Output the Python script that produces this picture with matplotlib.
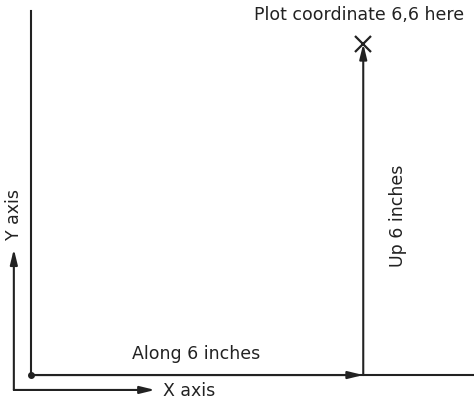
import matplotlib
matplotlib.use("Agg")
import matplotlib.pyplot as plt

# diagram geometry in inches (data units)
origin = (0, 0)
target = (6, 6)
y_axis_top = 6.6
x_axis_right = 8.1
small_axes_origin = (-0.31, -0.27)
small_axes_len = 2.55

labels = {
    "along": "Along 6 inches",
    "up": "Up 6 inches",
    "target": "Plot coordinate 6,6 here",
    "x": "X axis",
    "y": "Y axis",
}

ink = "#222222"
fs = 12.5

fig = plt.figure(figsize=(4.74, 4.02), dpi=100)
ax = fig.add_axes([0, 0, 1, 1])
ax.set_xlim(-0.56, 8.0)
ax.set_ylim(-0.47, 6.81)
ax.axis("off")

# main axes lines
ax.plot([origin[0], origin[0]], [origin[1], y_axis_top], color=ink, lw=1.5)
ax.plot([origin[0], x_axis_right], [origin[1], origin[1]], color=ink, lw=1.5)
ax.plot(*origin, "o", color=ink, ms=4)

arrow = dict(arrowstyle="-|>,head_length=0.9,head_width=0.22", color=ink, lw=1.5,
             shrinkA=0, shrinkB=0)

# along and up arrows
ax.annotate("", xy=(target[0], origin[1]), xytext=origin, arrowprops=arrow)
ax.annotate("", xy=target, xytext=(target[0], origin[1]), arrowprops=arrow)
ax.plot(*target, marker="x", color=ink, ms=11, mew=1.6)

# small axis indicator
sx, sy = small_axes_origin
ax.annotate("", xy=(sx + small_axes_len, sy), xytext=(sx, sy), arrowprops=arrow)
ax.annotate("", xy=(sx, sy + small_axes_len), xytext=(sx, sy), arrowprops=arrow)

ax.text(2.98, 0.4, labels["along"], ha="center", va="center", fontsize=fs, color=ink)
ax.text(6.63, 2.9, labels["up"], ha="center", va="center", rotation=90, fontsize=fs, color=ink)
ax.text(5.93, 6.54, labels["target"], ha="center", va="center", fontsize=fs, color=ink)
ax.text(2.38, sy, labels["x"], ha="left", va="center", fontsize=fs, color=ink)
ax.text(sx, 2.92, labels["y"], ha="center", va="center", rotation=90, fontsize=fs, color=ink)

fig.savefig("out.png", dpi=100)
